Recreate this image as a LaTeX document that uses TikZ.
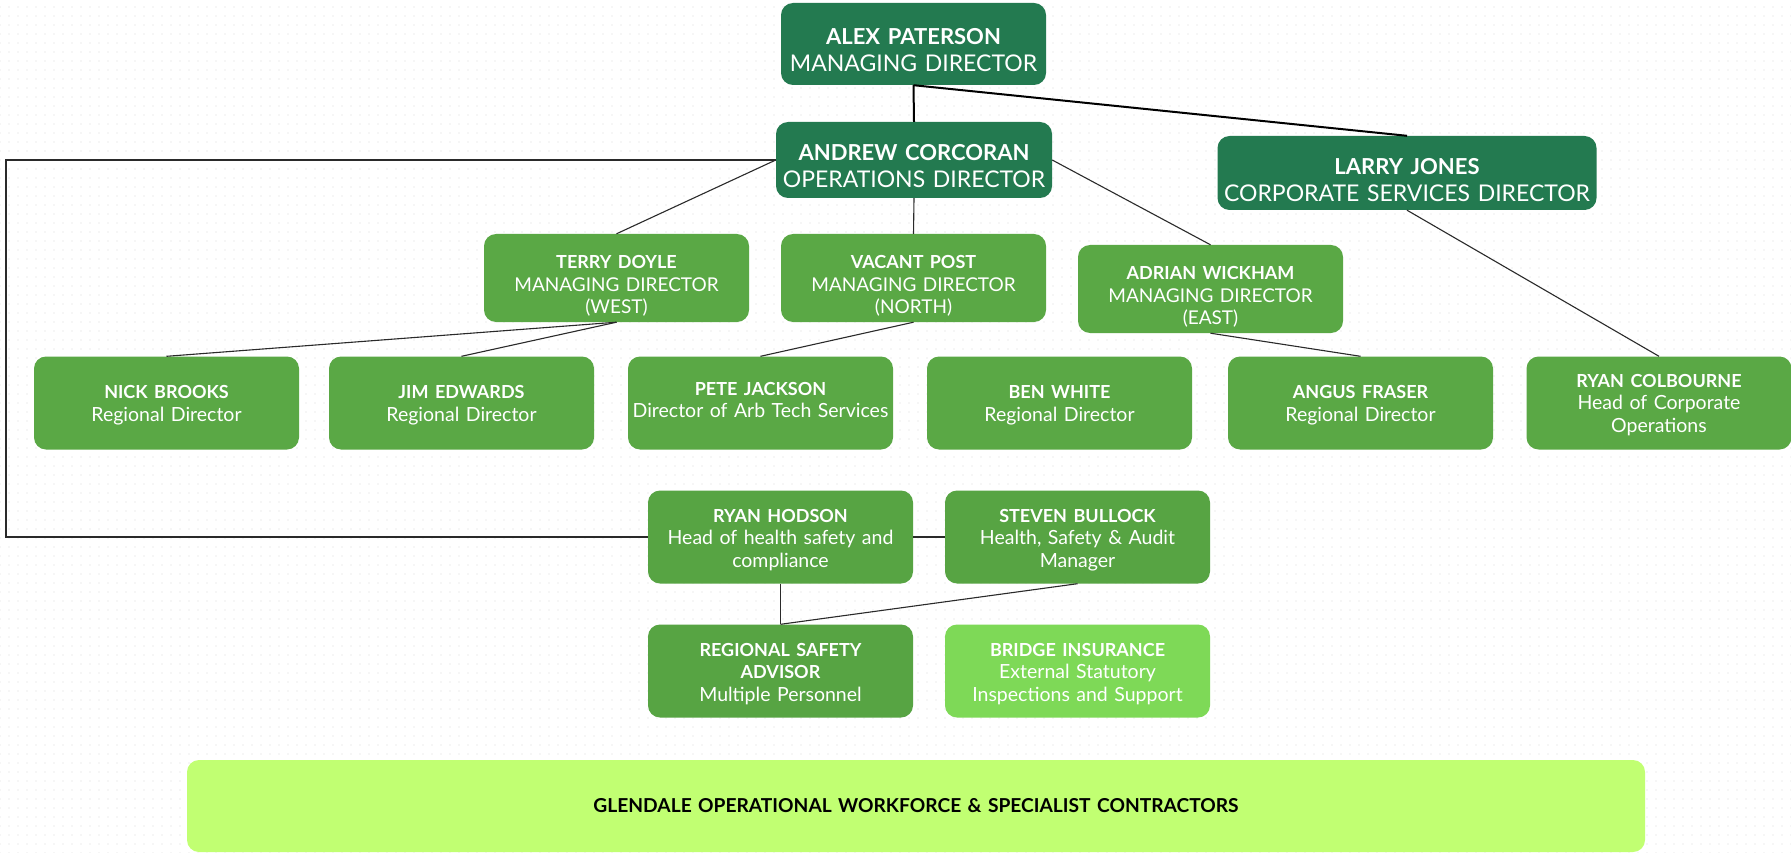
\documentclass[tikz,border=0pt]{standalone}
\usepackage{fontspec}
\setmainfont{Lato}
\usetikzlibrary{patterns.meta}
\definecolor{darkg}{HTML}{237A50}
\definecolor{midg}{HTML}{5AA845}
\definecolor{safeg}{HTML}{57A443}
\definecolor{lightg}{HTML}{7ED957}
\definecolor{limeg}{HTML}{C1FF72}
\definecolor{linec}{HTML}{2A2A2A}
\tikzset{
  box/.style={rounded corners=12pt, inner sep=0pt, minimum width=265pt},
  topbox/.style={box, fill=darkg},
  midbox/.style={box, fill=midg, minimum height=88pt},
  lowbox/.style={box, fill=midg, minimum height=93pt},
  safebox/.style={lowbox, fill=safeg},
  txt/.style={inner sep=0pt, align=center, text=white, text width=290pt},
  toptxt/.style={txt, text width=380pt, font=\fontsize{23}{27}\selectfont},
  midtxt/.style={txt, font=\fontsize{19}{22.3}\selectfont},
  lowtxt/.style={txt, font=\fontsize{19.5}{22.8}\selectfont},
  nm/.style={},
  conn/.style={draw=linec, line width=1.1pt},
  thick conn/.style={draw=black, line width=2pt},
}
\newcommand{\nmtop}[1]{{\bfseries\fontsize{22}{27}\selectfont #1}}
\newcommand{\nmmid}[1]{{\bfseries\fontsize{18}{22.3}\selectfont #1}}
\newcommand{\nmlow}[1]{{\bfseries\fontsize{18}{22.8}\selectfont #1}}
\begin{document}
\begin{tikzpicture}[x=1pt,y=-1pt]
\useasboundingbox (0,0) rectangle (1791,853);
\fill[white] (0,0) rectangle (1791,853);
\fill[pattern={Dots[distance=9pt,radius=0.7pt]}, pattern color=black!14] (0,0) rectangle (1791,853);

% top level
\node[topbox, minimum height=82pt] (alex) at (913.5,44) {};
\node[toptxt, yshift=-6pt] (alext) at (alex) {\nmtop{ALEX PATERSON}\\MANAGING DIRECTOR};
\node[topbox, minimum width=276pt, minimum height=76pt] (andrew) at (914,160) {};
\node[toptxt, yshift=-6pt] (andrewt) at (andrew) {\nmtop{ANDREW CORCORAN}\\OPERATIONS DIRECTOR};
\node[topbox, minimum width=379pt, minimum height=74pt] (larry) at (1407,173) {};
\node[toptxt, yshift=-7pt] (larryt) at (larry) {\nmtop{LARRY JONES}\\CORPORATE SERVICES DIRECTOR};

% second level
\node[midbox] (terry) at (616.5,278) {};
\node[midtxt, yshift=-8pt] (terryt) at (terry) {\nmmid{TERRY DOYLE}\\MANAGING DIRECTOR\\(WEST)};
\node[midbox] (vacant) at (913.5,278) {};
\node[midtxt, yshift=-8pt] (vacantt) at (vacant) {\nmmid{VACANT POST}\\MANAGING DIRECTOR\\(NORTH)};
\node[midbox] (adrian) at (1210.5,289) {};
\node[midtxt, yshift=-8pt] (adriant) at (adrian) {\nmmid{ADRIAN WICKHAM}\\MANAGING DIRECTOR\\(EAST)};

% third level
\node[lowbox] (nick) at (166.5,403) {};
\node[lowtxt, yshift=-2pt] (nickt) at (nick) {\nmlow{NICK BROOKS}\\Regional Director};
\node[lowbox] (jim) at (461.5,403) {};
\node[lowtxt, yshift=-2pt] (jimt) at (jim) {\nmlow{JIM EDWARDS}\\Regional Director};
\node[lowbox] (pete) at (760.5,403) {};
\node[lowtxt, yshift=3pt] (petet) at (pete) {\nmlow{PETE JACKSON}\\Director of Arb Tech Services};
\node[lowbox] (ben) at (1059.5,403) {};
\node[lowtxt, yshift=-2pt] (bent) at (ben) {\nmlow{BEN WHITE}\\Regional Director};
\node[lowbox] (angus) at (1360.5,403) {};
\node[lowtxt, yshift=-2pt] (angust) at (angus) {\nmlow{ANGUS FRASER}\\Regional Director};
\node[lowbox] (ryanc) at (1659,403) {};
\node[lowtxt, yshift=-2pt] (ryanct) at (ryanc) {\nmlow{RYAN COLBOURNE}\\Head of Corporate\\Operations};

% safety
\node[safebox] (ryanh) at (780.5,537) {};
\node[lowtxt, yshift=-3pt] (ryanht) at (ryanh) {\nmlow{RYAN HODSON}\\Head of health safety and\\compliance};
\node[safebox] (steven) at (1077.5,537) {};
\node[lowtxt, yshift=-3pt] (stevent) at (steven) {\nmlow{STEVEN BULLOCK}\\Health, Safety \& Audit\\Manager};
\node[safebox] (rsa) at (780.5,671) {};
\node[lowtxt, yshift=-3pt] (rsat) at (rsa) {\nmlow{REGIONAL SAFETY}\\\nmlow{ADVISOR}\\Multiple Personnel};
\node[lowbox, fill=lightg] (bridge) at (1077.5,671) {};
\node[lowtxt, yshift=-3pt] (bridget) at (bridge) {\nmlow{BRIDGE INSURANCE}\\External Statutory\\Inspections and Support};

% workforce
\node[box, fill=limeg, text=black, align=center, minimum width=1458pt, text width=1400pt, minimum height=92pt,
  font=\bfseries\fontsize{19.2}{22}\selectfont] (glen) at (916,806) {GLENDALE OPERATIONAL WORKFORCE \& SPECIALIST CONTRACTORS};

% connectors
\draw[thick conn] (alex.south) -- (andrew.north);
\draw[thick conn] (alex.south) -- (larry.north);
\draw[conn] (andrew.west) -- (terry.north);
\draw[conn] (andrew.south) -- (vacant.north);
\draw[conn] (andrew.east) -- (adrian.north);
\draw[conn] (larry.south) -- (ryanc.north);
\draw[conn] (terry.south) -- (nick.north);
\draw[conn] (terry.south) -- (jim.north);
\draw[conn] (vacant.south) -- (pete.north);
\draw[conn] (adrian.south) -- (angus.north);
\coordinate (loopa) at (6,160);
\coordinate (loopb) at (6,537);
\draw[conn] (andrew.west) -- (loopa) -- (loopb) -- (ryanh.west);
\draw[conn] (ryanh.east) -- (steven.west);
\draw[conn] (ryanh.south) -- (rsa.north);
\draw[conn] (steven.south) -- (rsa.north);
\end{tikzpicture}
\end{document}
